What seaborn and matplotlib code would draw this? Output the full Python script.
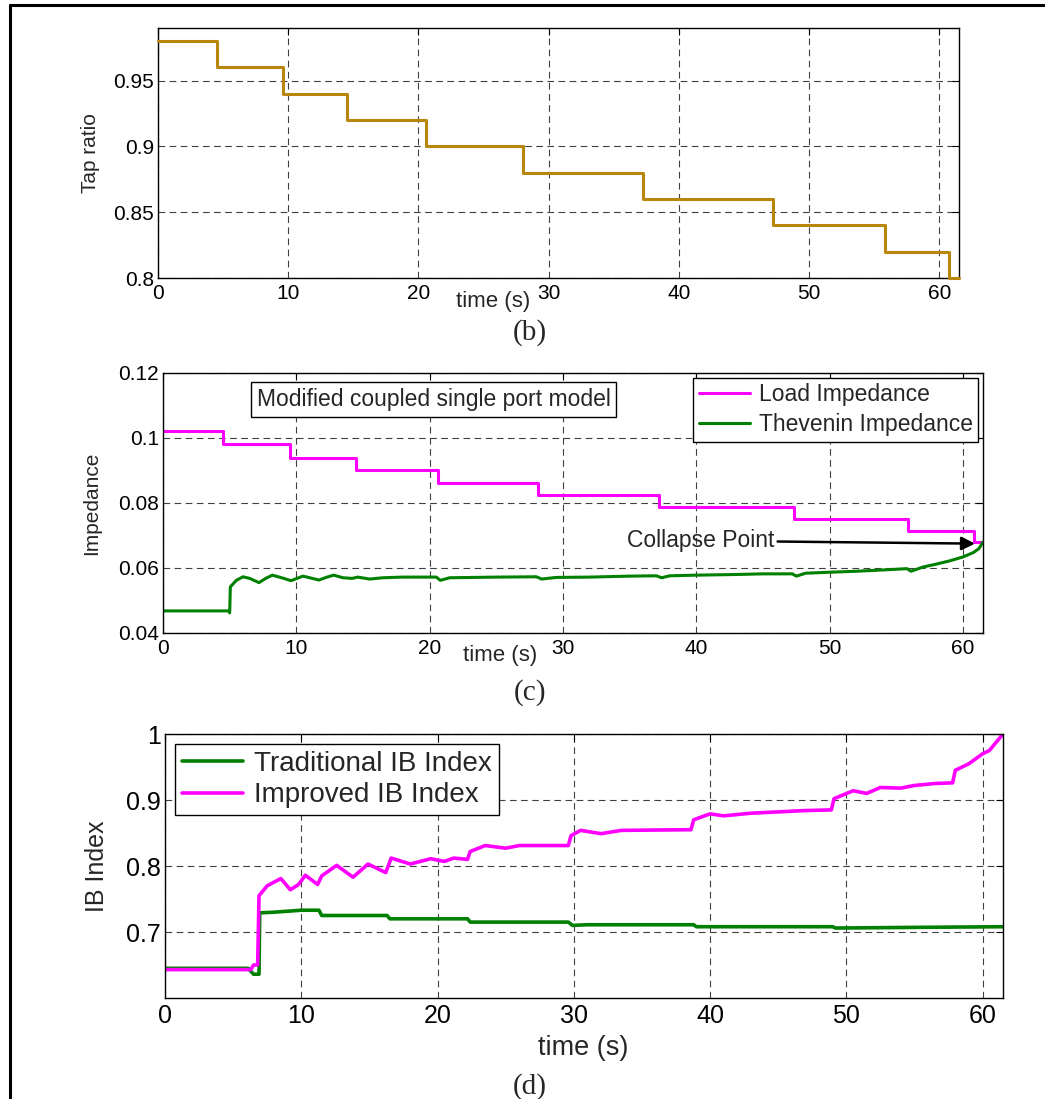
import matplotlib
matplotlib.use("Agg")
import matplotlib.pyplot as plt
import seaborn as sns
import pandas as pd
from matplotlib.lines import Line2D
from matplotlib.ticker import FuncFormatter

# (b) tap ratio
tap_time = [0, 4.5, 9.6, 14.5, 20.6, 28.0, 37.2, 47.2, 55.8, 60.7, 61.5]
tap_ratio = [0.98, 0.96, 0.94, 0.92, 0.90, 0.88, 0.86, 0.84, 0.82, 0.80, 0.80]

# (c) impedances
load_time = [0, 4.5, 9.5, 14.5, 20.6, 28.1, 37.2, 47.3, 55.9, 60.8, 61.5]
load_imp = [0.1021, 0.0980, 0.0939, 0.0900, 0.0862, 0.0825, 0.0788, 0.0750, 0.0715, 0.0681, 0.0681]

thev_time = [0, 4.9, 5.0, 5.05, 5.5, 6.0, 6.5, 7.2, 7.7, 8.2, 8.9, 9.6, 10.5, 11.0, 11.7,
             12.3, 12.8, 13.5, 14.2, 14.6, 15.5, 16.5, 18.0, 20.5, 20.8, 21.5, 25.0, 28.0,
             28.4, 29.5, 32.0, 35.0, 37.0, 37.4, 38.0, 40.0, 43.0, 45.0, 47.2, 47.5, 48.2,
             50.0, 52.0, 54.0, 55.8, 56.1, 57.0, 58.0, 59.0, 60.0, 60.8, 61.2, 61.5]
thev_imp = [0.0468, 0.0468, 0.0462, 0.0542, 0.0562, 0.0573, 0.0568, 0.0555, 0.0568, 0.0578,
            0.0570, 0.0561, 0.0575, 0.0570, 0.0563, 0.0572, 0.0578, 0.0570, 0.0568, 0.0572,
            0.0566, 0.0570, 0.0572, 0.0572, 0.0562, 0.0570, 0.0572, 0.0573, 0.0566, 0.0571,
            0.0572, 0.0575, 0.0576, 0.0570, 0.0576, 0.0578, 0.0580, 0.0582, 0.0582, 0.0575,
            0.0584, 0.0587, 0.0590, 0.0594, 0.0598, 0.0590, 0.0603, 0.0612, 0.0622, 0.0634,
            0.0648, 0.0660, 0.0680]

# (d) IB index
trad_time = [0, 6.1, 6.5, 6.9, 6.95, 8.0, 10.0, 11.3, 11.5, 16.3, 16.5, 22.2, 22.4, 29.6,
             29.9, 31.0, 38.8, 39.0, 49.0, 49.2, 55.0, 61.5]
trad_ib = [0.645, 0.645, 0.636, 0.636, 0.729, 0.730, 0.733, 0.733, 0.725, 0.725, 0.720, 0.720,
           0.715, 0.715, 0.710, 0.711, 0.711, 0.708, 0.708, 0.706, 0.707, 0.708]

impr_time = [0, 6.3, 6.5, 6.8, 6.9, 7.5, 8.5, 9.2, 9.8, 10.3, 11.2, 11.5, 12.6, 13.8, 14.9,
             16.2, 16.6, 18.0, 19.5, 20.5, 21.2, 22.2, 22.4, 23.5, 25.0, 26.0, 29.6, 29.8,
             30.5, 32.0, 33.5, 38.6, 38.8, 40.0, 41.0, 43.0, 45.0, 47.0, 48.9, 49.1, 50.5,
             51.5, 52.5, 54.0, 55.0, 56.5, 57.8, 58.0, 59.0, 60.0, 60.5, 61.5]
impr_ib = [0.643, 0.643, 0.650, 0.650, 0.755, 0.770, 0.781, 0.764, 0.772, 0.786, 0.772, 0.785,
           0.801, 0.783, 0.803, 0.790, 0.812, 0.803, 0.811, 0.807, 0.812, 0.810, 0.822, 0.831,
           0.827, 0.831, 0.831, 0.846, 0.854, 0.849, 0.854, 0.855, 0.870, 0.879, 0.876, 0.880,
           0.882, 0.884, 0.885, 0.902, 0.914, 0.910, 0.919, 0.918, 0.922, 0.925, 0.926, 0.945,
           0.955, 0.970, 0.975, 1.000]

sns.set_style("white")
plt.rcParams['font.family'] = ['Liberation Sans', 'DejaVu Sans']
plt.rcParams['axes.linewidth'] = 1.0

GOLD = '#b8860b'
MAG = '#ff00ff'
GRN = '#008000'

W, H = 1045, 1099
fig = plt.figure(figsize=(W / 100, H / 100), dpi=100)


def px_axes(l, t, r, b):
    return fig.add_axes([l / W, 1 - b / H, (r - l) / W, (b - t) / H])


def style(ax, fs):
    ax.grid(True, color='0.25', linestyle=(0, (6, 4)), linewidth=0.8)
    ax.tick_params(direction='in', top=True, right=True, length=5, width=0.8,
                   labelsize=fs, colors='black', pad=3)
    ax.tick_params(axis='x', pad=4)
    for s in ax.spines.values():
        s.set_color('black')
        s.set_linewidth(1.0)
    ax.yaxis.set_major_formatter(FuncFormatter(lambda v, p: '%g' % round(v, 4)))
    ax.set_xlabel('')
    ax.set_ylabel('')


# ---- (b)
ax1 = px_axes(158, 28, 959, 278)
df_tap = pd.DataFrame({'t': tap_time, 'v': tap_ratio})
sns.lineplot(data=df_tap, x='t', y='v', ax=ax1, color=GOLD, lw=2.2,
             drawstyle='steps-post', estimator=None, sort=False, clip_on=False, zorder=5)
ax1.set_xlim(0, 61.5)
ax1.set_ylim(0.8, 0.99)
ax1.set_xticks(range(0, 61, 10))
ax1.set_yticks([0.8, 0.85, 0.9, 0.95])
style(ax1, 15)
ax1.text(0.418, -0.096, 'time (s)', transform=ax1.transAxes, ha='center', va='center', fontsize=16)
fig.text(90 / W, 1 - 153 / H, 'Tap ratio', rotation=90, ha='center', va='center', fontsize=15)

# ---- (c)
ax2 = px_axes(163, 373, 983, 633)
df_load = pd.DataFrame({'t': load_time, 'v': load_imp})
df_thev = pd.DataFrame({'t': thev_time, 'v': thev_imp})
sns.lineplot(data=df_load, x='t', y='v', ax=ax2, color=MAG, lw=2.2,
             drawstyle='steps-post', estimator=None, sort=False, label='Load Impedance')
sns.lineplot(data=df_thev, x='t', y='v', ax=ax2, color=GRN, lw=2.2,
             estimator=None, sort=False, label='Thevenin Impedance')
ax2.set_xlim(0, 61.5)
ax2.set_ylim(0.04, 0.12)
ax2.set_xticks(range(0, 61, 10))
ax2.set_yticks([0.04, 0.06, 0.08, 0.10, 0.12])
style(ax2, 15)
leg2 = ax2.legend(loc='upper right', bbox_to_anchor=(1.0, 1.0), fontsize=16.5, frameon=True,
                  fancybox=False, edgecolor='black', framealpha=1, borderaxespad=0.2,
                  handlelength=2.2, borderpad=0.25, labelspacing=0.3, handletextpad=0.4)
leg2.get_frame().set_linewidth(1.0)
ax2.text(20.3, 0.1118, 'Modified coupled single port model', ha='center', va='center',
         fontsize=16.5, bbox=dict(boxstyle='square,pad=0.25', fc='white', ec='black', lw=1.0))
ax2.annotate('Collapse Point', xy=(60.9, 0.0675), xytext=(34.8, 0.0684), ha='left', va='center',
             fontsize=16.5, arrowprops=dict(arrowstyle='-|>', color='black', lw=1.8,
                                            mutation_scale=20, shrinkA=0, shrinkB=0))
ax2.text(0.411, -0.085, 'time (s)', transform=ax2.transAxes, ha='center', va='center', fontsize=16)
fig.text(92 / W, 1 - 503 / H, 'Impedance', rotation=90, ha='center', va='center', fontsize=15)

# ---- (d)
ax3 = px_axes(165, 734, 1003, 998)
df_trad = pd.DataFrame({'t': trad_time, 'v': trad_ib})
df_impr = pd.DataFrame({'t': impr_time, 'v': impr_ib})
sns.lineplot(data=df_trad, x='t', y='v', ax=ax3, color=GRN, lw=2.6,
             estimator=None, sort=False, label='Traditional IB Index')
sns.lineplot(data=df_impr, x='t', y='v', ax=ax3, color=MAG, lw=2.6,
             estimator=None, sort=False, label='Improved IB Index')
ax3.set_xlim(0, 61.5)
ax3.set_ylim(0.6, 1.0)
ax3.set_xticks(range(0, 61, 10))
ax3.set_yticks([0.7, 0.8, 0.9, 1.0])
style(ax3, 18)
leg3 = ax3.legend(loc='upper left', fontsize=20, frameon=True, fancybox=False,
                  edgecolor='black', framealpha=1, borderaxespad=0.35, handlelength=2.2,
                  borderpad=0.25, labelspacing=0.2, handletextpad=0.4)
leg3.get_frame().set_linewidth(1.0)
ax3.text(0.499, -0.189, 'time (s)', transform=ax3.transAxes, ha='center', va='center', fontsize=19.5)
fig.text(97 / W, 1 - 866 / H, 'IB Index', rotation=90, ha='center', va='center', fontsize=18)

# sub-captions
for lab, yy in [('(b)', 333), ('(c)', 693), ('(d)', 1087)]:
    fig.text(530 / W, 1 - yy / H, lab, ha='center', va='center', fontsize=21,
             family=['Liberation Serif', 'DejaVu Serif'])

# page frame lines (top and left)
fig.add_artist(Line2D([10 / W, 1], [1 - 5 / H, 1 - 5 / H], color='black', lw=2.2,
                      transform=fig.transFigure))
fig.add_artist(Line2D([10 / W, 10 / W], [0, 1 - 5 / H], color='black', lw=2.2,
                      transform=fig.transFigure))

fig.savefig('out.png', dpi=100)
